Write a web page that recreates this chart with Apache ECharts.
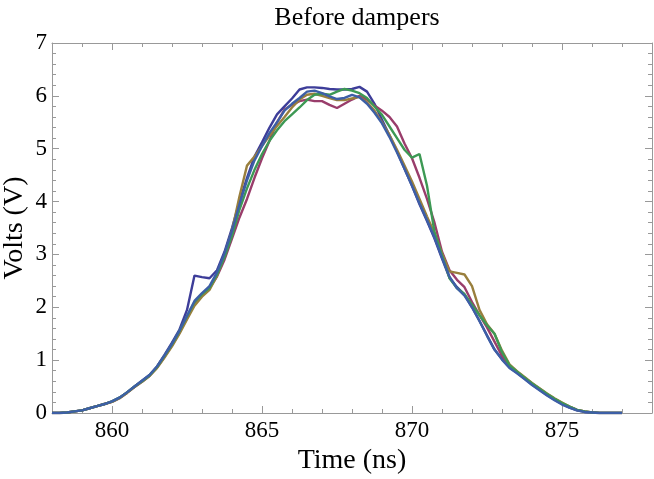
<!DOCTYPE html>
<html>
<head>
<meta charset="utf-8">
<script src="https://cdn.jsdelivr.net/npm/echarts@6/dist/echarts.min.js"></script>
<style>html,body{margin:0;padding:0;background:#fff}#c{width:654px;height:479px}</style>
</head>
<body>
<div id="c"></div>
<script>
var times = [858,858.25,858.5,858.75,859,859.25,859.5,859.75,860,860.25,860.5,860.75,861,861.25,861.5,861.75,
862,862.25,862.5,862.75,863,863.25,863.5,863.75,864,864.25,864.5,864.75,865,865.25,865.5,865.75,
866,866.25,866.5,866.75,867,867.25,867.5,867.75,868,868.25,868.5,868.75,869,869.25,869.5,869.75,
870,870.25,870.5,870.75,871,871.25,871.5,871.75,872,872.25,872.5,872.75,873,873.25,873.5,873.75,
874,874.25,874.5,874.75,875,875.25,875.5,875.75,876,876.25,876.5,876.75,877];

var navy = [0,0,0.01,0.03,0.05,0.09,0.13,0.17,0.22,0.29,0.39,0.5,0.61,0.72,0.88,1.1,
1.33,1.58,1.95,2.6,2.57,2.55,2.7,3.05,
3.5,4.0,4.45,4.85,5.12,5.4,5.65,5.8,
5.95,6.12,6.16,6.16,6.15,6.13,6.12,6.12,
6.13,6.17,6.08,5.85,5.55,5.25,4.95,4.62,
4.3,3.95,3.63,3.3,2.92,2.56,2.38,2.24,
2.0,1.74,1.47,1.2,1.02,0.86,0.76,0.65,
0.54,0.44,0.34,0.25,0.17,0.1,0.05,0.02,
0.01,0,0,0,0];

var magenta = [0,0,0.01,0.03,0.05,0.09,0.13,0.17,0.21,0.28,0.38,0.49,0.59,0.7,0.86,1.06,
1.28,1.52,1.8,2.07,2.23,2.36,2.58,2.9,
3.3,3.7,4.05,4.45,4.82,5.15,5.5,5.74,
5.83,5.9,5.93,5.9,5.9,5.83,5.77,5.85,
5.93,6.0,5.93,5.82,5.72,5.6,5.42,5.1,
4.82,4.45,4.05,3.6,3.05,2.7,2.52,2.38,
2.1,1.85,1.62,1.35,1.08,0.9,0.78,0.67,
0.56,0.46,0.36,0.27,0.19,0.12,0.06,0.03,
0.01,0,0,0,0];

var olive = [0,0,0.01,0.03,0.05,0.09,0.13,0.17,0.21,0.28,0.38,0.49,0.59,0.7,0.85,1.05,
1.26,1.5,1.77,2.03,2.2,2.33,2.6,2.98,
3.45,4.1,4.68,4.85,5.05,5.25,5.43,5.6,
5.78,5.93,6.02,6.04,6.0,5.96,5.92,5.92,
5.95,5.98,5.88,5.72,5.5,5.26,4.98,4.68,
4.38,4.05,3.72,3.4,3.02,2.68,2.65,2.62,
2.4,1.95,1.68,1.5,1.18,0.92,0.79,0.68,
0.57,0.47,0.37,0.28,0.2,0.12,0.06,0.03,
0.01,0,0,0,0];

var green = [0,0,0.01,0.03,0.05,0.09,0.13,0.17,0.22,0.29,0.39,0.5,0.6,0.71,0.87,1.08,
1.3,1.55,1.83,2.1,2.25,2.37,2.62,2.95,
3.35,3.85,4.25,4.6,4.9,5.15,5.35,5.52,
5.65,5.78,5.92,6.02,6.04,6.02,6.08,6.13,
6.1,6.05,5.96,5.8,5.64,5.42,5.2,4.98,
4.83,4.9,4.3,3.42,2.98,2.55,2.36,2.25,
2.05,1.85,1.66,1.5,1.15,0.9,0.78,0.67,
0.56,0.46,0.36,0.27,0.19,0.12,0.06,0.03,
0.01,0,0,0,0];

var steel = [0,0,0.01,0.03,0.05,0.09,0.13,0.17,0.22,0.29,0.39,0.5,0.61,0.72,0.88,1.09,
1.31,1.56,1.84,2.12,2.27,2.4,2.66,3.02,
3.45,3.95,4.4,4.78,5.05,5.3,5.5,5.72,
5.85,5.96,6.08,6.1,6.05,5.99,5.94,5.96,
6.02,5.97,5.85,5.68,5.48,5.22,4.93,4.62,
4.3,3.97,3.65,3.32,2.94,2.58,2.36,2.22,
2.0,1.74,1.46,1.2,1.01,0.85,0.75,0.64,
0.53,0.43,0.33,0.24,0.16,0.1,0.05,0.02,
0.01,0,0,0,0];

var xTickLabels = [860, 865, 870, 875];
var yTickLabels = [0, 1, 2, 3, 4, 5, 6, 7];

var FRAME = '#999999';
var FONT = 'Liberation Serif';

function pairs(v){ return times.map(function(t,i){ return [t, v[i]]; }); }

var seriesDefs = [
  {name:'s1', data:navy, color:'#3d3d99'},
  {name:'s2', data:magenta, color:'#993d6b'},
  {name:'s3', data:olive, color:'#997f3d'},
  {name:'s4', data:green, color:'#3d9954'},
  {name:'s5', data:steel, color:'#3d5fa6'}
];

var chart = echarts.init(document.getElementById('c'), null, {renderer:'canvas'});

function xAxisBase(pos, labels, major){
  return {
    type:'value', position:pos, min:858, max:878,
    interval: major ? undefined : 1,
    axisLine:{show: !major, lineStyle:{color:FRAME, width:1}},
    axisTick:major ? {show:true, inside:true, length:7, lineStyle:{color:FRAME}, customValues: xTickLabels}
                   : {show:true, inside:true, length:4, lineStyle:{color:FRAME}},
    axisLabel: labels ? {show:true, customValues: xTickLabels, margin:6, color:'#000', fontFamily:FONT, fontSize:23}
                      : {show:false},
    splitLine:{show:false}
  };
}

var option = {
  animation:false,
  backgroundColor:'#fff',
  title:{
    text:'Before dampers', left:352, top:0, textAlign:'center',
    textStyle:{fontFamily:FONT, fontSize:26, fontWeight:'normal', color:'#000'}
  },
  grid:{left:52, right:2, top:43, bottom:66, containLabel:false, outerBoundsMode:'none'},
  xAxis:[
    Object.assign(xAxisBase('bottom', true, false), {
      name:'Time (ns)', nameLocation:'middle', nameGap:34, nameMoveOverlap:false,
      nameTextStyle:{fontFamily:FONT, fontSize:28, color:'#000'}
    }),
    xAxisBase('bottom', false, true),
    xAxisBase('top', false, false),
    xAxisBase('top', false, true)
  ],
  yAxis:[
    {
      type:'value', position:'left', min:0, max:7, interval:1,
      axisLine:{show:true, lineStyle:{color:FRAME}},
      axisTick:{show:true, inside:true, length:7, lineStyle:{color:FRAME}},
      minorTick:{show:true, splitNumber:5, length:4, lineStyle:{color:FRAME}},
      axisLabel:{show:true, margin:5, color:'#000', fontFamily:FONT, fontSize:23,
        formatter:function(v){ return yTickLabels.indexOf(v) >= 0 ? String(v) : ''; }},
      splitLine:{show:false},
      name:'Volts (V)', nameLocation:'middle', nameGap:23, nameRotate:90, nameMoveOverlap:false,
      nameTextStyle:{fontFamily:FONT, fontSize:28, color:'#000'}
    },
    {
      type:'value', position:'right', min:0, max:7, interval:1,
      axisLine:{show:true, lineStyle:{color:FRAME}},
      axisTick:{show:true, inside:true, length:7, lineStyle:{color:FRAME}},
      minorTick:{show:true, splitNumber:5, length:4, lineStyle:{color:FRAME}},
      axisLabel:{show:false},
      splitLine:{show:false}
    }
  ],
  series: seriesDefs.map(function(s){
    return {
      type:'line', name:s.name, data:pairs(s.data), xAxisIndex:0, yAxisIndex:0,
      showSymbol:false, symbol:'none', smooth:false,
      lineStyle:{color:s.color, width:2.4},
      itemStyle:{color:s.color}
    };
  })
};
chart.setOption(option);
</script>
</body>
</html>
